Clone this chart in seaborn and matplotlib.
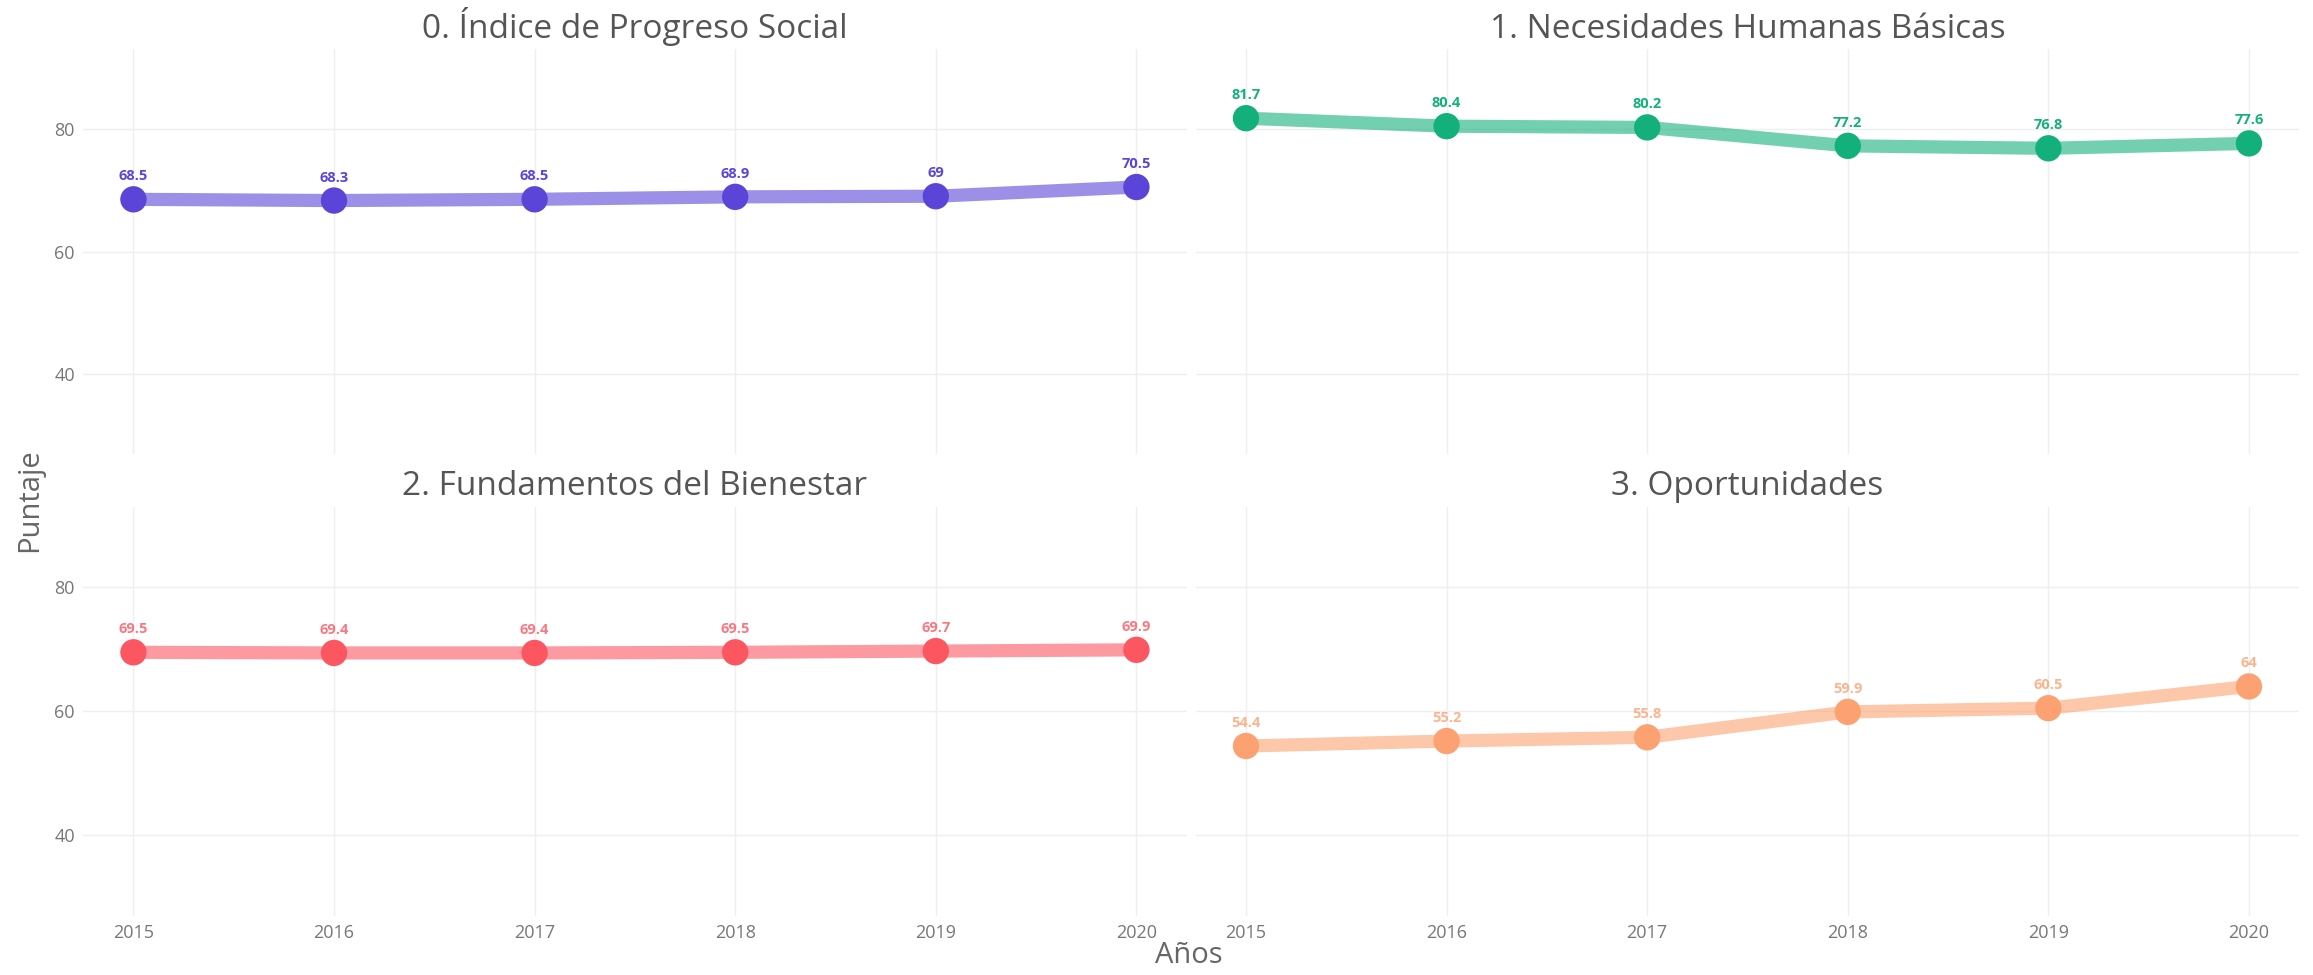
import matplotlib
matplotlib.use("Agg")
import matplotlib.pyplot as plt
import seaborn as sns
import pandas as pd

# Datos
anios = [2015, 2016, 2017, 2018, 2019, 2020]
titulos = ["0. Índice de Progreso Social", "1. Necesidades Humanas Básicas",
           "2. Fundamentos del Bienestar", "3. Oportunidades"]
ips = [68.5, 68.3, 68.5, 68.9, 69.0, 70.5]
necesidades = [81.7, 80.4, 80.2, 77.2, 76.8, 77.6]
fundamentos = [69.5, 69.4, 69.4, 69.5, 69.7, 69.9]
oportunidades = [54.4, 55.2, 55.8, 59.9, 60.5, 64.0]
etiquetas = [["68.5", "68.3", "68.5", "68.9", "69", "70.5"],
             ["81.7", "80.4", "80.2", "77.2", "76.8", "77.6"],
             ["69.5", "69.4", "69.4", "69.5", "69.7", "69.9"],
             ["54.4", "55.2", "55.8", "59.9", "60.5", "64"]]
colores = ["#5b45d9", "#14b07b", "#fc5661", "#fca272"]

series = [ips, necesidades, fundamentos, oportunidades]

sns.set_theme(style="whitegrid")
plt.rcParams['font.family'] = ['Open Sans', 'DejaVu Sans']

fig = plt.figure(figsize=(23.13, 9.75), dpi=100)
posiciones = [[0.036, 0.534, 0.477, 0.416], [0.517, 0.534, 0.477, 0.416],
              [0.036, 0.0605, 0.477, 0.42], [0.517, 0.0605, 0.477, 0.42]]

for i in range(4):
    ax = fig.add_axes(posiciones[i])
    df = pd.DataFrame({'Año': anios, 'Puntaje': series[i]})
    sns.lineplot(data=df, x='Año', y='Puntaje', color=colores[i], alpha=0.6,
                 linewidth=9.5, ax=ax, solid_capstyle='round')
    sns.scatterplot(data=df, x='Año', y='Puntaje', color=colores[i], s=360,
                    edgecolor='none', ax=ax, zorder=3)
    alfa_txt = 1.0 if i < 2 else 0.8
    for a, v, t in zip(anios, series[i], etiquetas[i]):
        ax.text(a, v + 2.6, t, color=colores[i], alpha=alfa_txt, fontsize=10.5,
                fontweight='bold', ha='center', va='bottom')
    ax.set_xlim(2014.75, 2020.25)
    ax.set_ylim(27, 93)
    ax.set_yticks([40, 60, 80])
    ax.set_xticks(anios)
    ax.set_title(titulos[i], fontsize=24, color='#555555', pad=8)
    ax.set_xlabel('')
    ax.set_ylabel('')
    ax.grid(color='#efefef', linewidth=1.0)
    for s in ax.spines.values():
        s.set_visible(False)
    ax.tick_params(axis='both', labelsize=13, labelcolor='#777777', length=0, pad=6)
    if i < 2:
        ax.set_xticklabels([])
    if i % 2 == 1:
        ax.set_yticklabels([])

fig.text(0.514, 0.02, 'Años', fontsize=21, color='#666666', ha='center', va='center')
fig.text(0.013, 0.487, 'Puntaje', fontsize=21, color='#666666', ha='center', va='center',
         rotation=90)

fig.savefig('out.png', dpi=100, facecolor='white')
